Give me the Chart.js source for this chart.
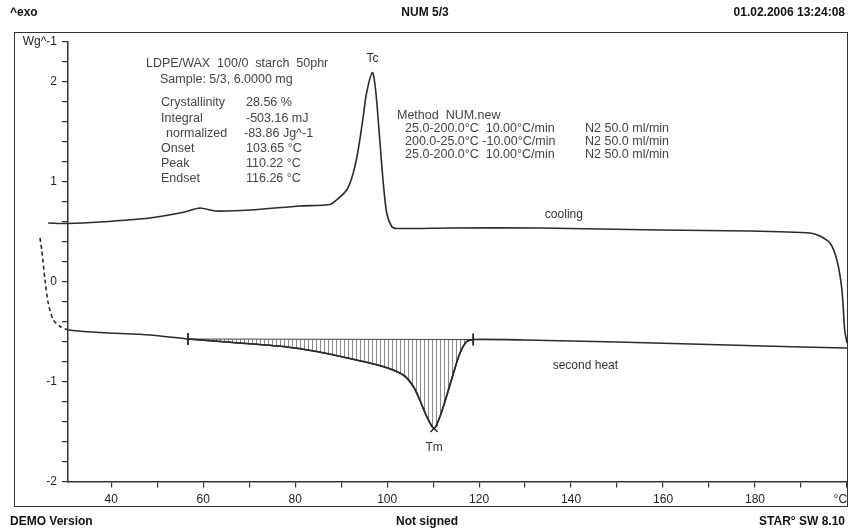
<!DOCTYPE html>
<html>
<head>
<meta charset="utf-8">
<script src="https://cdn.jsdelivr.net/npm/chart.js@4.4.0/dist/chart.umd.min.js"></script>
<style>
body { margin: 0; background: #fff; width: 850px; height: 530px; position: relative; overflow: hidden;
       font-family: "Liberation Sans", Arial, sans-serif; color: #222; }
canvas { position: absolute; left: 0; top: 0; }
#frame { position: absolute; left: 14px; top: 32px; width: 834px; height: 475px; box-sizing: border-box; border: 1.5px solid #333; }
.hd { position: absolute; font-weight: bold; font-size: 12px; line-height: 14px; color: #111; white-space: pre; }
.t { position: absolute; font-size: 12.5px; line-height: 14px; color: #444; white-space: pre; }
</style>
</head>
<body>
<div id="frame"></div>
<canvas id="ChartCanvas" width="850" height="530"></canvas>

<div class="hd" style="left:10px; top:5px;">^exo</div>
<div class="hd" style="left:325px; top:5px; width:200px; text-align:center;">NUM 5/3</div>
<div class="hd" style="right:5px; top:5px;">01.02.2006 13:24:08</div>
<div class="hd" style="left:10px; top:514px;">DEMO Version</div>
<div class="hd" style="left:327px; top:514px; width:200px; text-align:center;">Not signed</div>
<div class="hd" style="right:5px; top:514px;">STAR° SW 8.10</div>

<div class="t" style="left:146px; top:56px;">LDPE/WAX  100/0  starch  50phr</div>
<div class="t" style="left:160px; top:72px;">Sample: 5/3, 6.0000 mg</div>
<div class="t" style="left:161px; top:95px;">Crystallinity</div>
<div class="t" style="left:246px; top:95px;">28.56 %</div>
<div class="t" style="left:161px; top:111px;">Integral</div>
<div class="t" style="left:246px; top:111px;">-503.16 mJ</div>
<div class="t" style="left:166px; top:126px;">normalized</div>
<div class="t" style="left:244px; top:126px;">-83.86 Jg^-1</div>
<div class="t" style="left:161px; top:141px;">Onset</div>
<div class="t" style="left:246px; top:141px;">103.65 °C</div>
<div class="t" style="left:161px; top:156px;">Peak</div>
<div class="t" style="left:246px; top:156px;">110.22 °C</div>
<div class="t" style="left:161px; top:171px;">Endset</div>
<div class="t" style="left:246px; top:171px;">116.26 °C</div>

<div class="t" style="left:397px; top:108px;">Method  NUM.new</div>
<div class="t" style="left:405px; top:121px;">25.0-200.0°C  10.00°C/min</div>
<div class="t" style="left:405px; top:134px;">200.0-25.0°C -10.00°C/min</div>
<div class="t" style="left:405px; top:147px;">25.0-200.0°C  10.00°C/min</div>
<div class="t" style="left:585px; top:121px;">N2 50.0 ml/min</div>
<div class="t" style="left:585px; top:134px;">N2 50.0 ml/min</div>
<div class="t" style="left:585px; top:147px;">N2 50.0 ml/min</div>

<script>
// cooling run, in measuring order (200 -> 25 °C)
const coolTemp = [200, 199.5, 198.9, 197.8, 196.3, 194.1, 192.0, 178.9, 159.3, 133.2, 113.6, 102.1, 101.0, 99.9,
	99.1, 98.4, 97.5, 96.8, 95.5, 94.8, 93.7, 92.6, 91.2, 89.0, 87.6, 81.0, 70.2, 62.6, 59.3, 56.0, 48.4, 37.6, 30.6, 26.3];
const coolHeat = [-0.615, -0.485, -0.085, 0.215, 0.385, 0.455, 0.485, 0.505, 0.515, 0.535, 0.535, 0.53, 0.55, 0.685,
	1.015, 1.415, 1.915, 2.09, 1.88, 1.65, 1.315, 1.08, 0.915, 0.815, 0.77, 0.755, 0.715, 0.705, 0.735, 0.695, 0.635, 0.595, 0.58, 0.585];

// second heating run (25 -> 200 °C)
const heatTemp = [24.5, 24.9, 25.6, 26.3, 27.4, 28.9, 30.7, 37.6, 48.4, 56.7, 66.5, 77.4, 84.7, 91.9, 99.1, 103.5,
	105.7, 107.1, 108.6, 110.2, 111.5, 112.9, 114.4, 115.8, 117.3, 118.7, 130, 150, 170, 190, 200];
const heatHeat = [0.44, 0.315, 0.015, -0.215, -0.385, -0.45, -0.485, -0.51, -0.535, -0.575, -0.61, -0.65, -0.70, -0.77,
	-0.85, -0.935, -1.05, -1.185, -1.35, -1.47, -1.35, -1.15, -0.92, -0.72, -0.60, -0.58, -0.585, -0.605, -0.63, -0.655, -0.665];

// integration limits (baseline) and peaks
const limitTemp = [56.7, 118.7];
const limitHeat = [-0.575, -0.58];
const tmTemp = 110.2, tmHeat = -1.47;
const tcTemp = 96.8, tcHeat = 2.09;

const xTickValues = [40, 50, 60, 70, 80, 90, 100, 110, 120, 130, 140, 150, 160, 170, 180, 190, 200];
const xTickLabels = ['40', '', '60', '', '80', '', '100', '', '120', '', '140', '', '160', '', '180', '', '°C    '];
const yTickValues = [-2, -1.8, -1.6, -1.4, -1.2, -1, -0.8, -0.6, -0.4, -0.2, 0, 0.2, 0.4, 0.6, 0.8, 1, 1.2, 1.4, 1.6, 1.8, 2, 2.2, 2.4];
const yTickLabels = ['-2', '', '', '', '', '-1', '', '', '', '', '0', '', '', '', '', '1', '', '', '', '', '2', '', 'Wg^-1'];

function pts(xs, ys) {
	return xs.map((v, i) => ({ x: v, y: ys[i] }));
}

// vertical hatching for the integrated peak
const pc = document.createElement('canvas');
pc.width = 4; pc.height = 4;
const pctx = pc.getContext('2d');
pctx.strokeStyle = '#8a8a8a';
pctx.lineWidth = 1;
pctx.beginPath(); pctx.moveTo(0.5, 0); pctx.lineTo(0.5, 4); pctx.stroke();
const hatch = pctx.createPattern(pc, 'repeat');

const heatPts = pts(heatTemp, heatHeat);
const meltPts = heatPts.filter(p => p.x >= limitTemp[0] && p.x <= limitTemp[1]);

const font = { family: '"Liberation Sans", Arial, sans-serif', size: 12 };
const lineCol = '#2b2b2b';

const textPlugin = {
	id: 'curveText',
	afterDatasetsDraw(chart) {
		const { ctx, scales: { x, y } } = chart;
		ctx.save();
		ctx.font = '12px "Liberation Sans", Arial, sans-serif';
		ctx.fillStyle = '#333';
		ctx.textBaseline = 'middle';
		ctx.textAlign = 'center';
		ctx.fillText('Tc', x.getPixelForValue(tcTemp), y.getPixelForValue(tcHeat) - 14);
		ctx.fillText('Tm', x.getPixelForValue(tmTemp), y.getPixelForValue(tmHeat) + 19);
		ctx.textAlign = 'left';
		ctx.fillText('cooling', x.getPixelForValue(134.3), y.getPixelForValue(0.535) - 13);
		ctx.fillText('second heat', x.getPixelForValue(136), y.getPixelForValue(-0.6) + 24);
		ctx.restore();
	}
};

var ctx = document.getElementById('ChartCanvas').getContext('2d');
var chart = new Chart(ctx, {
	type: 'line',
	data: {
		datasets: [{
			label: 'cooling',
			data: pts(coolTemp, coolHeat),
			borderColor: lineCol, borderWidth: 1.6, pointRadius: 0, tension: 0.25, clip: false
		}, {
			label: 'second heat',
			data: heatPts.slice().reverse(),
			borderColor: lineCol, borderWidth: 1.6, pointRadius: 0, tension: 0.25, clip: false,
			segment: { borderDash: c => Math.min(c.p0.parsed.x, c.p1.parsed.x) < 30.6 ? [4, 3] : undefined }
		}, {
			label: 'baseline',
			data: pts(limitTemp, limitHeat),
			borderColor: '#444', borderWidth: 1, pointRadius: 0
		}, {
			label: 'peak area',
			data: meltPts,
			borderColor: lineCol, borderWidth: 1.6, pointRadius: 0, tension: 0.25,
			backgroundColor: hatch, fill: 2
		}, {
			label: 'limits',
			data: pts(limitTemp, limitHeat),
			showLine: false, pointStyle: 'line', rotation: 90, pointRadius: 6,
			borderColor: '#222', borderWidth: 1.8
		}, {
			label: 'Tm',
			data: [{ x: tmTemp, y: tmHeat }],
			showLine: false, pointStyle: 'crossRot', pointRadius: 5,
			borderColor: '#222', borderWidth: 1.4
		}]
	},
	options: {
		responsive: false,
		animation: false,
		devicePixelRatio: 1,
		layout: { autoPadding: false, padding: { left: 18, right: 3, top: 41.5, bottom: 18.5 } },
		plugins: { legend: { display: false }, tooltip: { enabled: false } },
		scales: {
			x: {
				type: 'linear', min: 30.6, max: 200,
				afterBuildTicks: s => { s.ticks = xTickValues.map(v => ({ value: v })); },
				afterFit: s => { s.height = 30; s.paddingLeft = 0; s.paddingRight = 0; },
				ticks: { autoSkip: false, maxRotation: 0, padding: 5, font: font, color: '#222',
					callback: (v, i) => xTickLabels[i] },
				grid: { drawOnChartArea: false, drawTicks: true, tickLength: 6, color: '#333', lineWidth: 1.2 },
				border: { color: '#333', width: 1.5 }
			},
			y: {
				type: 'linear', min: -2, max: 2.4,
				afterBuildTicks: s => { s.ticks = yTickValues.map(v => ({ value: v })); },
				afterFit: s => { s.width = 50; s.paddingTop = 0; s.paddingBottom = 0; },
				ticks: { autoSkip: false, padding: 5, font: font, color: '#222',
					callback: (v, i) => yTickLabels[i] },
				grid: { drawOnChartArea: false, drawTicks: true, tickLength: 6, color: '#333', lineWidth: 1.2 },
				border: { color: '#333', width: 1.5 }
			}
		}
	},
	plugins: [textPlugin]
});
</script>
</body>
</html>
